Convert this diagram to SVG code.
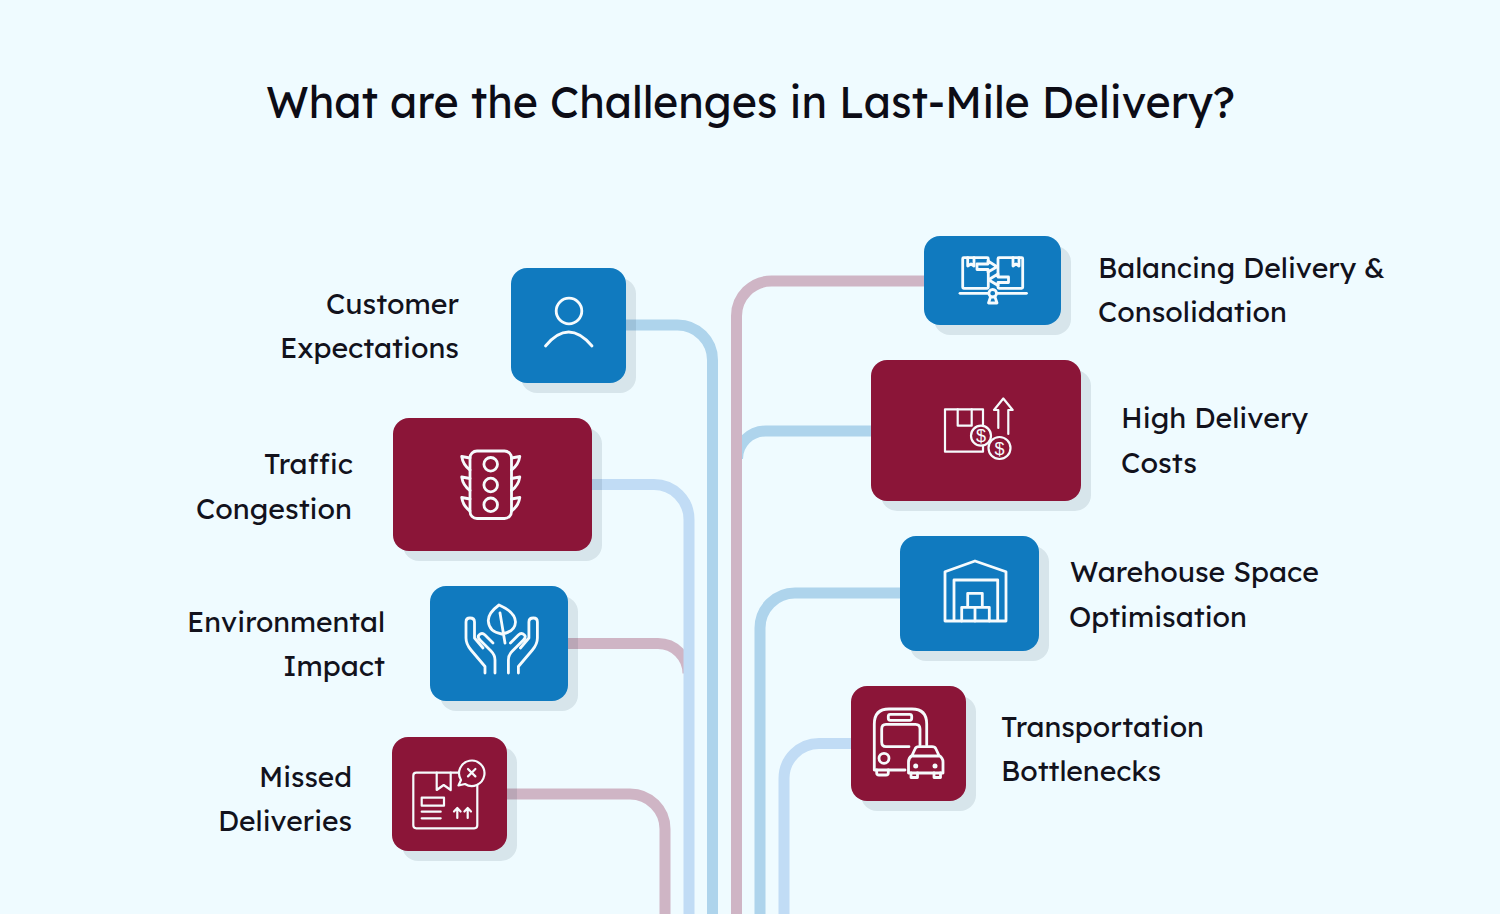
<svg xmlns="http://www.w3.org/2000/svg" width="1500" height="914" viewBox="0 0 1500 914">
<style>
.bg{fill:#effbff}
.shadow{fill:#0a2a3a;fill-opacity:.1}
.blue{fill:#107abf}
.red{fill:#8b1538}
.ln{fill:none;stroke-width:11}
.a{stroke:#aed4ec}.b{stroke:#c1dcf5}.c{stroke:#cfb5c5}
.t{font-family:"Lexend","Inter","Noto Sans",sans-serif;font-size:28px;fill:#12121c}
.title{font-family:"Lexend","Inter","Noto Sans",sans-serif;font-size:44px;fill:#0c0c16}
.i{fill:none;stroke:#f6fbfd;stroke-width:2.8;stroke-linecap:round;stroke-linejoin:round}
.i2{stroke-width:2.2}
.ft{fill:#107abf}.fr{fill:#8b1538}
.d{font-family:"Liberation Sans",sans-serif;font-size:18px;fill:#f6fbfd;text-anchor:middle}
</style>
<rect class="bg" width="1500" height="914"/>
<text class="title" x="266" y="118" textLength="969" lengthAdjust="spacingAndGlyphs">What are the Challenges in Last-Mile Delivery?</text>
<g id="connectors">
<path class="ln c" d="M568 643.500H658A30 30 0 0 1 688 673.500"/>
<path class="ln b" d="M592 484.500H654A35 35 0 0 1 689 519.500V914"/>
<path class="ln a" d="M626 325H677.500A35 35 0 0 1 712.500 360V914"/>
<path class="ln a" d="M871 431H765.500A28 28 0 0 0 737.500 459"/>
<path class="ln c" d="M924 281H771.500A35 35 0 0 0 736.500 316V914"/>
<path class="ln c" d="M507 794H630A35 35 0 0 1 665 829V914"/>
<path class="ln a" d="M900 593H795A35 35 0 0 0 760 628V914"/>
<path class="ln b" d="M851 743.500H819A35 35 0 0 0 784 778.500V914"/>
</g>
<g id="node-customer-expectations">
<rect class="shadow" x="521" y="278" width="115" height="115" rx="16"/>
<rect class="blue" x="511" y="268" width="115" height="115" rx="16"/>
<circle class="i" cx="569" cy="311" r="12.800"/>
<path class="i" d="M545.500 346Q568.500 318 592 346"/>
<text class="t" x="459" y="314" text-anchor="end" textLength="133" lengthAdjust="spacingAndGlyphs">Customer</text>
<text class="t" x="459" y="358" text-anchor="end" textLength="179" lengthAdjust="spacingAndGlyphs">Expectations</text>
</g>
<g id="node-traffic-congestion">
<rect class="shadow" x="403" y="428" width="199" height="133" rx="16"/>
<rect class="red" x="393" y="418" width="199" height="133" rx="16"/>
<rect class="i" x="470" y="451" width="41.500" height="67.500" rx="7"/>
<circle class="i" cx="490.700" cy="464.300" r="6.800"/>
<circle class="i" cx="490.700" cy="485" r="6.800"/>
<circle class="i" cx="490.700" cy="504.800" r="6.800"/>
<path class="i" d="M470 458L461.700 456.500Q463 465 470 470M470 478.500L461.700 477Q463 485.500 470 490.500M470 499L461.700 497.500Q463 506 470 511"/>
<path class="i" d="M511.500 458L519.800 456.500Q518.500 465 511.500 470M511.500 478.500L519.800 477Q518.500 485.500 511.500 490.500M511.500 499L519.800 497.500Q518.500 506 511.500 511"/>
<text class="t" x="353" y="473.500" text-anchor="end" textLength="89" lengthAdjust="spacingAndGlyphs">Traffic</text>
<text class="t" x="352" y="518.500" text-anchor="end" textLength="156" lengthAdjust="spacingAndGlyphs">Congestion</text>
</g>
<g id="node-environmental-impact">
<rect class="shadow" x="440" y="596" width="138" height="115" rx="16"/>
<rect class="blue" x="430" y="586" width="138" height="115" rx="16"/>
<path class="i" d="M499 605Q488 613 488.300 621Q489 632 501.700 634Q515 632 515.500 622Q515 612 499 605ZM500 613L505 643"/>
<path class="i" d="M485 673V666.500L471 650Q466 644 466 638V622Q466 618 470 618Q474.500 618 474.500 622V638L483 648M495 673V660Q495 655 491 651L480 640Q477 637 479 635Q482 632 485 635L493 643"/>
<path class="i" transform="translate(1003.400 0) scale(-1 1)" d="M485 673V666.500L471 650Q466 644 466 638V622Q466 618 470 618Q474.500 618 474.500 622V638L483 648M495 673V660Q495 655 491 651L480 640Q477 637 479 635Q482 632 485 635L493 643"/>
<text class="t" x="385" y="632" text-anchor="end" textLength="198" lengthAdjust="spacingAndGlyphs">Environmental</text>
<text class="t" x="385" y="676" text-anchor="end" textLength="102" lengthAdjust="spacingAndGlyphs">Impact</text>
</g>
<g id="node-missed-deliveries">
<rect class="shadow" x="402" y="747" width="115" height="114" rx="16"/>
<rect class="red" x="392" y="737" width="115" height="114" rx="16"/>
<rect class="i i2" x="413.300" y="772.700" width="64" height="55.600" rx="3"/>
<path class="i i2" d="M436.700 772.700V790L443.700 785L450.700 790V772.700"/>
<rect class="i i2" x="421.700" y="797.700" width="22.300" height="8"/>
<path class="i i2" d="M421.700 811.700H440.700M421.700 818.300H440.700M457.300 818V808.500M454 811.500L457.300 808L460.600 811.500M467.700 818V808.500M464.400 811.500L467.700 808L471 811.500"/>
<path class="i i2 fr" d="M461 780L458.500 785.500L465 784A12.700 12.700 0 1 0 461 780Z"/>
<path class="i i2" d="M468 769L475.400 776.400M475.400 769L468 776.400"/>
<text class="t" x="352" y="786.500" text-anchor="end" textLength="93" lengthAdjust="spacingAndGlyphs">Missed</text>
<text class="t" x="352" y="831" text-anchor="end" textLength="134" lengthAdjust="spacingAndGlyphs">Deliveries</text>
</g>
<g id="node-balancing-delivery">
<rect class="shadow" x="934" y="246" width="137" height="89" rx="16"/>
<rect class="blue" x="924" y="236" width="137" height="89" rx="16"/>
<rect class="i" x="962.700" y="257.700" width="25.600" height="30.600" rx="1"/>
<rect class="i" x="998" y="257.700" width="24.700" height="30.600" rx="1"/>
<path class="i" d="M967.700 257.700V266L971 264L974 266V257.700M1013 257.700V266L1016 264L1019 266V257.700"/>
<path class="i ft" d="M977 264H988V261L997 266.700L988 272V269.500H977Z"/>
<path class="i ft" d="M1008.500 277H998V274L988.500 279.700L998 285.500V282.500H1008.500Z"/>
<path class="i" d="M960 293.300H1026.500"/>
<circle class="i ft" cx="992.700" cy="293.300" r="3.800"/>
<path class="i ft" d="M990.500 297L988.500 303H997L995 297Z"/>
<text class="t" x="1098" y="277.500" textLength="287" lengthAdjust="spacingAndGlyphs">Balancing Delivery &amp;</text>
<text class="t" x="1098" y="322" textLength="189" lengthAdjust="spacingAndGlyphs">Consolidation</text>
</g>
<g id="node-high-delivery-costs">
<rect class="shadow" x="881" y="370" width="210" height="141" rx="16"/>
<rect class="red" x="871" y="360" width="210" height="141" rx="16"/>
<rect class="i i2" x="945" y="409.300" width="38" height="42.400"/>
<path class="i i2" d="M957.700 409.300V425.700H971.700V409.300"/>
<circle class="i i2 fr" cx="981" cy="435.700" r="10"/>
<circle class="i i2 fr" cx="999.500" cy="448" r="11"/>
<text class="d" x="981" y="442">$</text>
<text class="d" x="999.500" y="454.500">$</text>
<path class="i i2" d="M998.300 428V410H994L1003.300 398.500L1012.700 410H1008.300V434"/>
<text class="t" x="1121" y="427.500" textLength="187" lengthAdjust="spacingAndGlyphs">High Delivery</text>
<text class="t" x="1121" y="472.500" textLength="76" lengthAdjust="spacingAndGlyphs">Costs</text>
</g>
<g id="node-warehouse-space">
<rect class="shadow" x="910" y="546" width="139" height="115" rx="16"/>
<rect class="blue" x="900" y="536" width="139" height="115" rx="16"/>
<path class="i" d="M945 571.700L975 561L1006 571.700V621H945ZM954 621V580H997.700V621"/>
<path class="i" d="M967.700 607.300V593.300H982.300V607.300M961.700 621V607.300H989.300V621M975 607.300V621"/>
<text class="t" x="1070" y="581.500" textLength="249" lengthAdjust="spacingAndGlyphs">Warehouse Space</text>
<text class="t" x="1069" y="626.500" textLength="178" lengthAdjust="spacingAndGlyphs">Optimisation</text>
</g>
<g id="node-transportation-bottlenecks">
<rect class="shadow" x="861" y="696" width="115" height="115" rx="16"/>
<rect class="red" x="851" y="686" width="115" height="115" rx="16"/>
<path class="i" d="M905 770H874.300V724Q874.300 709 889 709H912Q926.700 709 926.700 724V745"/>
<rect class="i" x="888.300" y="714.300" width="23.400" height="6" rx="2"/>
<path class="i" d="M909 746.700H886Q881.700 746.700 881.700 742V729Q881.700 724.300 886 724.300H915.500Q920 724.300 920 729V745"/>
<circle class="i" cx="884" cy="758.300" r="5"/>
<path class="i" d="M876.700 770V773Q876.700 775 879 775H886Q888.300 775 888.300 773V770"/>
<path class="i" d="M908.500 773V762Q908.500 758 912 755.500L915 749Q916 746.700 919 746.700H932Q935 746.700 936 749L939 755.500Q943 758 943 762V773ZM912 756H939.500"/>
<path class="i" d="M911 773V777.500H917.500V773M934 773V777.500H940.500V773"/>
<circle cx="915.700" cy="766" r="2.500" fill="#f6fbfd"/>
<circle cx="935" cy="766" r="2.500" fill="#f6fbfd"/>
<text class="t" x="1001" y="736.500" textLength="203" lengthAdjust="spacingAndGlyphs">Transportation</text>
<text class="t" x="1001" y="781" textLength="160" lengthAdjust="spacingAndGlyphs">Bottlenecks</text>
</g>
</svg>
